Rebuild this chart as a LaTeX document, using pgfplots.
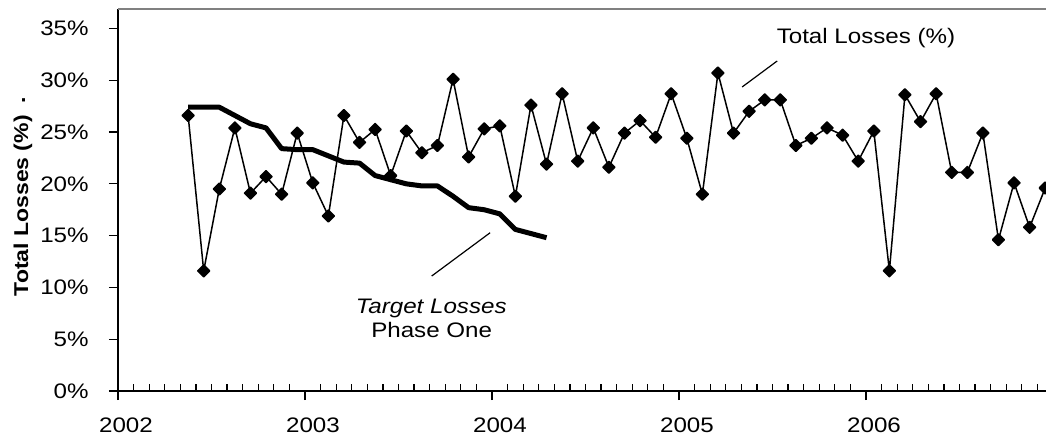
\documentclass[border=0pt]{standalone}
\usepackage{fontspec}
\setmainfont{Liberation Sans}[FakeStretch=1.15]
\usepackage{pgfplots}
\pgfplotsset{compat=1.18}

\pgfplotstableread{
x     loss
4.5   26.6
5.5   11.6
6.5   19.5
7.5   25.4
8.5   19.1
9.5   20.7
10.5  19.0
11.5  24.9
12.5  20.1
13.5  16.9
14.5  26.6
15.5  24.0
16.5  25.25
17.5  20.8
18.5  25.1
19.5  23.0
20.5  23.7
21.5  30.1
22.5  22.6
23.5  25.3
24.5  25.6
25.5  18.8
26.5  27.6
27.5  21.9
28.5  28.7
29.5  22.2
30.5  25.4
31.5  21.6
32.5  24.9
33.5  26.1
34.5  24.5
35.5  28.7
36.5  24.4
37.5  19.0
38.5  30.7
39.5  24.9
40.5  27.0
41.5  28.1
42.5  28.1
43.5  23.7
44.5  24.4
45.5  25.4
46.5  24.7
47.5  22.2
48.5  25.1
49.5  11.6
50.5  28.6
51.5  26.0
52.5  28.7
53.5  21.1
54.5  21.1
55.5  24.9
56.5  14.6
57.5  20.1
58.5  15.8
59.5  19.6
}\losses

\pgfplotstableread{
x     target
4.5   27.4
5.5   27.4
6.5   27.4
7.5   26.6
8.5   25.8
9.5   25.4
10.5  23.4
11.5  23.3
12.5  23.3
13.5  22.7
14.5  22.1
15.5  22.0
16.5  20.8
17.5  20.4
18.5  20.0
19.5  19.8
20.5  19.8
21.5  18.8
22.5  17.7
23.5  17.5
24.5  17.1
25.5  15.6
26.5  15.2
27.5  14.8
}\target

\newcommand{\lblfont}{\fontsize{10.5}{12}\selectfont}

\begin{document}
\begin{tikzpicture}
\begin{axis}[
    name=ax,
    scale only axis,
    width=464pt, height=191pt,
    xmin=0, xmax=59.55,
    ymin=0, ymax=36.88,
    axis x line*=bottom,
    axis y line*=left,
    axis line style={-, black, line width=0.6pt},
    xtick={0,12,24,36,48},
    xticklabels={{\lblfont 2002},{\lblfont 2003},{\lblfont 2004},{\lblfont 2005},{\lblfont 2006}},
    minor xtick={1,2,3,4,5,6,7,8,9,10,11,13,14,15,16,17,18,19,20,21,22,23,25,26,27,28,29,30,31,32,33,34,35,37,38,39,40,41,42,43,44,45,46,47,49,50,51,52,53,54,55,56,57,58,59},
    ytick={0,5,...,35},
    yticklabel={\lblfont\pgfmathprintnumber[assume math mode=true]{\tick}\%},
    xtick align=inside,
    ytick align=outside,
    major tick length=4.5pt,
    minor tick length=3.5pt,
    every major x tick/.append style={yshift=-4.5pt},
    tick style={black, line width=0.6pt},
    xticklabel style={anchor=north, inner sep=0pt, yshift=-13pt, xshift=4pt},
    yticklabel style={anchor=east, inner sep=0pt, xshift=-10pt},
    every axis y label/.style={at={(axis description cs:-0.1024,0.509)}, rotate=90, anchor=center, font=\fontsize{10}{12}\selectfont\bfseries},
    ylabel={Total Losses (\%)\hspace{6pt}\raisebox{1.5pt}{.}},
]
\draw[gray, line width=0.8pt] (rel axis cs:0,1) -- (rel axis cs:1,1);

\addplot[black, line width=0.75pt, line join=round, mark=square*, mark size=2.1pt,
    mark options={rotate=45, solid, fill=black}] table[x=x, y=loss] {\losses};
\addplot[black, line width=2.5pt, line join=round, no marks] table[x=x, y=target] {\target};

\node[font=\lblfont, anchor=center] at (axis cs:48.0,34.08) {Total Losses (\%)};
\draw[black, line width=0.6pt] (axis cs:40.05,29.35) -- (axis cs:42.30,31.86);
\node[font=\lblfont\itshape, anchor=base] at (axis cs:20.1,7.53) {Target Losses};
\node[font=\lblfont, anchor=base] at (axis cs:20.13,5.12) {Phase One};
\draw[black, line width=0.6pt] (axis cs:20.13,11.10) -- (axis cs:23.88,15.28);
\end{axis}
\pgfresetboundingbox
\path[use as bounding box] ([shift={(-59pt,-24.5pt)}]ax.south west) rectangle ([shift={(464pt,195.5pt)}]ax.south west);
\end{tikzpicture}
\end{document}
